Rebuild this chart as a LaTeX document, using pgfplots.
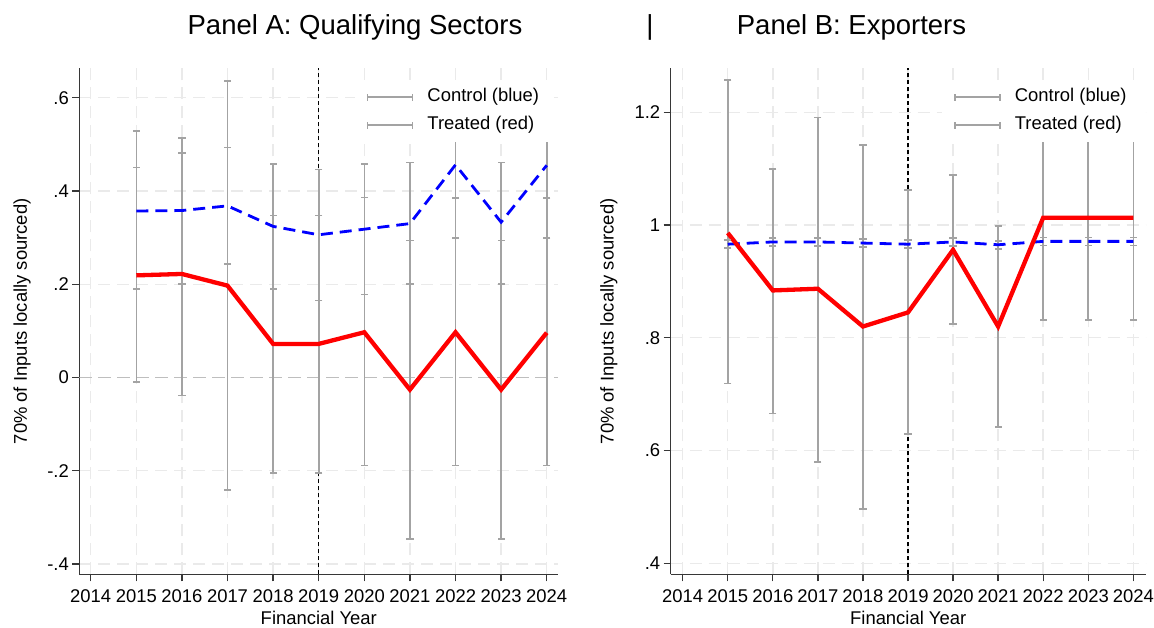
\documentclass[border=0pt]{standalone}
\usepackage{pgfplots}
\pgfplotsset{compat=1.18}
\usepackage{pgfplotstable}
\usepackage{fontspec}
\setmainfont{Liberation Sans}
\definecolor{ebgray}{RGB}{163,163,163}
\definecolor{gridgray}{RGB}{234,234,234}
\definecolor{zerogray}{RGB}{190,190,190}
\definecolor{axisgray}{RGB}{55,55,55}
\newcommand\lblfont{\fontsize{18.5}{22}\selectfont}

\pgfplotstableread{
year ctrl clo chi trt tlo thi
2015 0.357 0.190 0.528 0.219 -0.010 0.450
2016 0.358 0.200 0.514 0.222 -0.039 0.482
2017 0.368 0.244 0.493 0.197 -0.241 0.636
2018 0.324 0.190 0.458 0.072 -0.205 0.347
2019 0.306 0.165 0.446 0.072 -0.205 0.347
2020 0.318 0.178 0.458 0.097 -0.189 0.386
2021 0.330 0.200 0.461 -0.026 -0.346 0.294
2022 0.456 0.299 0.613 0.097 -0.189 0.385
2023 0.333 0.200 0.461 -0.026 -0.346 0.294
2024 0.455 0.299 0.613 0.096 -0.189 0.385
}\dataA

\pgfplotstableread{
year ctrl clo chi trt tlo thi
2015 0.966 0.959 0.973 0.986 0.719 1.257
2016 0.970 0.963 0.977 0.884 0.666 1.099
2017 0.970 0.963 0.977 0.887 0.580 1.191
2018 0.968 0.961 0.975 0.820 0.496 1.142
2019 0.966 0.959 0.973 0.845 0.629 1.062
2020 0.970 0.963 0.977 0.956 0.824 1.089
2021 0.965 0.958 0.972 0.820 0.642 0.998
2022 0.971 0.964 0.978 1.013 0.832 1.194
2023 0.971 0.964 0.978 1.013 0.832 1.194
2024 0.971 0.964 0.978 1.013 0.832 1.194
}\dataB

\pgfplotsset{
  panel/.style={
    scale only axis,
    height=506bp,
    axis x line*=bottom, axis y line*=left,
    axis line style={-, draw=axisgray, line width=1.3bp},
    every tick/.style={draw=axisgray, line width=1.3bp},
    tick align=outside, major tick length=7bp,
    xtick={2014,2015,2016,2017,2018,2019,2020,2021,2022,2023,2024},
    xticklabels={2014,2015,2016,2017,2018,2019,2020,2021,2022,2023,2024},
    grid=major,
    major grid style={draw=gridgray, line width=1.4bp, dash pattern=on 12bp off 7bp},
    ticklabel style={font=\lblfont},
    xticklabel style={yshift=-5bp},
    label style={font=\lblfont},
    xlabel={Financial Year},
    xlabel style={at={(axis description cs:0.5,0)}, anchor=base, yshift=-50bp},
    ylabel={70\% of Inputs locally sourced)},
    legend style={draw=none, fill=white, font=\lblfont,
      at={(1,1)}, anchor=north east, xshift=-7bp, yshift=-12bp,
      inner xsep=12bp, inner ysep=8bp,
      nodes={inner sep=0bp, text height=13.5bp, text depth=4bp},
      row sep=10.5bp,
      /tikz/every odd column/.style={column sep=14bp}},
    legend cell align=left,
    legend image code/.code={
      \draw[ebgray, line width=1.6bp] (0bp,0bp) -- (45bp,0bp);
      \draw[ebgray, line width=1.6bp] (0bp,-3.4bp) -- (0bp,3.4bp);
      \draw[ebgray, line width=1.6bp] (45bp,-3.4bp) -- (45bp,3.4bp);
    },
  },
  ebars/.style={forget plot, draw=none,
    error bars/.cd, y dir=both, y explicit,
    error bar style={draw=ebgray, line width=1.6bp, solid},
    error mark=none},
  caps/.style={forget plot, only marks, mark=-, mark size=3.6bp,
    mark options={draw=ebgray, line width=1.6bp, solid}},
}

\begin{document}
\begin{tikzpicture}
\path[use as bounding box] (0bp,0bp) rectangle (1154bp,628bp);

\node[font=\fontsize{27.6}{32}\selectfont, anchor=base] at (355bp,593bp) {Panel A: Qualifying Sectors};
\node[font=\fontsize{27.6}{32}\selectfont, anchor=base] at (650bp,593bp) {|};
\node[font=\fontsize{27.6}{32}\selectfont, anchor=base] at (851.5bp,593bp) {Panel B: Exporters};

% Panel A
\begin{axis}[panel, at={(79.3bp,53.7bp)}, anchor=south west,
  width=479bp,
  xmin=2013.75, xmax=2024.254, ymin=-0.422, ymax=0.663,
  ytick={-0.4,-0.2,0,0.2,0.4,0.6},
  yticklabels={-.4,-.2,0,.2,.4,.6},
  ylabel style={at={(axis description cs:-0.1195,0.5)}, anchor=center, rotate=0},
]
\addplot[forget plot, zerogray, line width=1.8bp, dash pattern=on 13bp off 6bp] coordinates {(2013.75,0) (2024.254,0)};
\addplot[forget plot, black, line width=1.2bp, dash pattern=on 4bp off 3bp] coordinates {(2019,-0.422) (2019,0.663)};
\addplot[ebars] table[x=year, y=ctrl, y error plus expr=\thisrow{chi}-\thisrow{ctrl}, y error minus expr=\thisrow{ctrl}-\thisrow{clo}] {\dataA};
\addplot[ebars] table[x=year, y=trt, y error plus expr=\thisrow{thi}-\thisrow{trt}, y error minus expr=\thisrow{trt}-\thisrow{tlo}] {\dataA};
\addplot[caps] table[x=year, y=clo] {\dataA};
\addplot[caps] table[x=year, y=chi] {\dataA};
\addplot[caps] table[x=year, y=tlo] {\dataA};
\addplot[caps] table[x=year, y=thi] {\dataA};
\addplot[forget plot, blue, line width=2.8bp, dash pattern=on 12bp off 7bp] table[x=year, y=ctrl] {\dataA};
\addplot[forget plot, red, line width=4.3bp] table[x=year, y=trt] {\dataA};
\addlegendimage{ebgray}
\addlegendentry{Control (blue)}
\addlegendimage{ebgray}
\addlegendentry{Treated (red)}
\end{axis}

% Panel B
\begin{axis}[panel, at={(670.7bp,53.7bp)}, anchor=south west,
  width=475bp,
  xmin=2013.734, xmax=2024.275, ymin=0.3805, ymax=1.278,
  ytick={0.4,0.6,0.8,1,1.2},
  yticklabels={.4,.6,.8,1,1.2},
  ylabel style={at={(axis description cs:-0.13,0.5)}, anchor=center, rotate=0},
]
\addplot[forget plot, black, line width=1.2bp, dash pattern=on 4bp off 3bp] coordinates {(2019,0.3805) (2019,1.278)};
\addplot[ebars] table[x=year, y=ctrl, y error plus expr=\thisrow{chi}-\thisrow{ctrl}, y error minus expr=\thisrow{ctrl}-\thisrow{clo}] {\dataB};
\addplot[ebars] table[x=year, y=trt, y error plus expr=\thisrow{thi}-\thisrow{trt}, y error minus expr=\thisrow{trt}-\thisrow{tlo}] {\dataB};
\addplot[caps] table[x=year, y=clo] {\dataB};
\addplot[caps] table[x=year, y=chi] {\dataB};
\addplot[caps] table[x=year, y=tlo] {\dataB};
\addplot[caps] table[x=year, y=thi] {\dataB};
\addplot[forget plot, blue, line width=2.8bp, dash pattern=on 12bp off 7bp] table[x=year, y=ctrl] {\dataB};
\addplot[forget plot, red, line width=4.3bp] table[x=year, y=trt] {\dataB};
\addlegendimage{ebgray}
\addlegendentry{Control (blue)}
\addlegendimage{ebgray}
\addlegendentry{Treated (red)}
\end{axis}
\end{tikzpicture}
\end{document}
